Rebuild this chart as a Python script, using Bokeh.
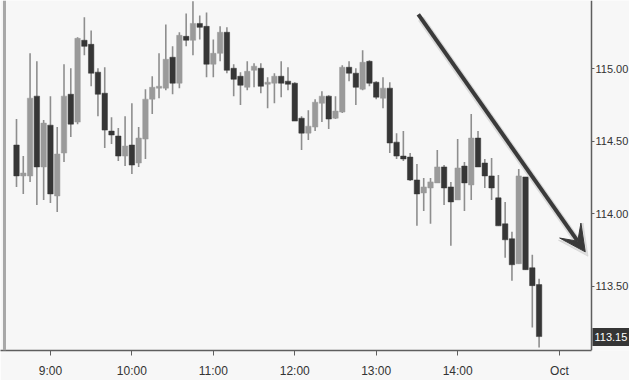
from bokeh.plotting import figure
from bokeh.models import Range1d, FixedTicker, NumeralTickFormatter, Label, Arrow, VeeHead, Span, ColumnDataSource
from bokeh.embed import file_html
from bokeh.resources import INLINE

# ---- data (5-minute candles, index 0 = 8:35) ----
opens = [114.473, 114.260, 114.260, 114.810, 114.322, 114.610, 114.122, 114.418, 114.823, 114.631,
         115.195, 115.167, 114.975, 114.830, 114.569, 114.535, 114.397, 114.473, 114.349, 114.514,
         114.789, 114.865, 114.865, 115.078, 114.899, 115.222, 115.195, 115.311, 115.291, 115.030,
         115.105, 115.250, 115.002, 114.947, 114.871, 114.988, 115.002, 114.892, 114.899, 114.947,
         114.913, 114.899, 114.658, 114.555, 114.597, 114.761, 114.810, 114.658, 114.700, 115.009,
         114.968, 114.858, 115.050, 114.906, 114.796, 114.865, 114.493, 114.397, 114.390, 114.232,
         114.143, 114.177, 114.212, 114.322, 114.184, 114.095, 114.328, 114.198, 114.521, 114.349,
         114.260, 114.109, 113.930, 113.827, 113.655, 114.253, 113.627, 113.511]
highs = [114.652, 114.397, 115.105, 115.050, 114.645, 114.810, 114.597, 115.030, 115.002, 115.215,
         115.353, 115.263, 115.002, 115.009, 114.665, 114.590, 114.672, 114.761, 114.597, 114.858,
         114.947, 115.105, 115.304, 115.153, 115.250, 115.380, 115.463, 115.366, 115.387, 115.201,
         115.291, 115.284, 115.030, 114.975, 115.050, 115.036, 115.036, 114.940, 114.968, 115.050,
         115.009, 114.906, 114.672, 114.713, 114.789, 114.844, 114.816, 114.810, 115.023, 115.050,
         115.002, 115.126, 115.057, 114.913, 114.940, 114.906, 114.555, 114.569, 114.418, 114.342,
         114.246, 114.246, 114.438, 114.335, 114.219, 114.514, 114.356, 114.686, 114.569, 114.377,
         114.383, 114.267, 114.081, 113.875, 114.308, 114.253, 113.717, 113.552]
lows = [114.184, 114.136, 114.219, 114.060, 114.095, 114.074, 114.012, 114.356, 114.528, 114.617,
        115.091, 114.878, 114.672, 114.452, 114.480, 114.363, 114.328, 114.274, 114.322, 114.377,
        114.686, 114.796, 114.851, 114.823, 114.865, 115.153, 115.091, 115.201, 114.940, 114.940,
        115.050, 114.968, 114.810, 114.748, 114.851, 114.871, 114.830, 114.727, 114.761, 114.803,
        114.851, 114.638, 114.438, 114.507, 114.569, 114.631, 114.583, 114.652, 114.693, 114.913,
        114.748, 114.851, 114.878, 114.789, 114.727, 114.418, 114.377, 114.363, 114.225, 113.916,
        114.019, 113.930, 114.212, 114.060, 113.779, 114.095, 114.019, 114.095, 114.322, 114.177,
        114.095, 113.916, 113.696, 113.538, 113.655, 113.614, 113.215, 113.078]
closes = [114.260, 114.280, 114.796, 114.322, 114.624, 114.136, 114.411, 114.810, 114.617, 115.208,
          115.153, 114.968, 114.823, 114.576, 114.542, 114.397, 114.466, 114.335, 114.521, 114.789,
          114.871, 114.878, 115.064, 114.899, 115.229, 115.195, 115.311, 115.284, 115.030, 115.105,
          115.250, 114.988, 114.926, 114.885, 114.981, 115.016, 114.878, 114.906, 114.947, 114.899,
          114.892, 114.638, 114.555, 114.603, 114.768, 114.810, 114.652, 114.707, 115.009, 114.968,
          114.871, 115.043, 114.899, 114.803, 114.865, 114.487, 114.397, 114.377, 114.232, 114.136,
          114.184, 114.219, 114.322, 114.177, 114.081, 114.315, 114.212, 114.521, 114.322, 114.260,
          114.177, 113.916, 113.820, 113.648, 114.260, 113.614, 113.504, 113.153]

time_tick_pos = [5, 17, 29, 41, 53, 65, 80]
time_tick_labels = ["9:00", "10:00", "11:00", "12:00", "13:00", "14:00", "Oct"]
price_ticks = [113.5, 114.0, 114.5, 115.0]
last_price = 113.15
last_price_text = "113.15"
# trend arrow (candle index, price)
arrow_start = (59.2, 115.373)
arrow_end = (83.8, 113.737)

# ---- build ----
idx = list(range(len(opens)))
up_col, down_col, wick_col = "#9a9a9a", "#363636", "#8e8e8e"
src = ColumnDataSource(dict(
    x=idx, high=highs, low=lows,
    top=[max(o, c) for o, c in zip(opens, closes)],
    bottom=[min(o, c) for o, c in zip(opens, closes)],
    color=[up_col if c >= o else down_col for o, c in zip(opens, closes)],
))

BG = "#f7f7f7"
FONT = "Liberation Sans"
AXIS_COL = "#5e5e5e"

X0, X1 = -2.357, 90.32      # full-width frame
AX = 84.72                  # where the price scale sits
p = figure(width=629, height=380, output_backend="svg", toolbar_location=None,
           x_range=Range1d(X0, X1), y_range=Range1d(113.057, 115.469),
           y_axis_location="right",
           min_border_left=0, min_border_top=0, min_border_right=0, min_border_bottom=29)
p.background_fill_color = BG
p.border_fill_color = BG
p.outline_line_color = None
p.xgrid.visible = False
p.ygrid.visible = False

p.segment(x0="x", y0="high", x1="x", y1="low", source=src, line_color=wick_col, line_width=1.6)
p.vbar(x="x", top="top", bottom="bottom", width=0.8, source=src,
       fill_color="color", line_color="color", line_width=0.5)

# axes
xa = p.xaxis[0]
xa.ticker = FixedTicker(ticks=time_tick_pos)
xa.major_label_overrides = {t: l for t, l in zip(time_tick_pos, time_tick_labels)}
xa.bounds = (X0, AX)
xa.minor_tick_line_color = None
xa.major_tick_in = 0
xa.major_tick_out = 5
xa.major_label_standoff = 8
xa.axis_line_color = AXIS_COL
xa.axis_line_width = 1.5
xa.major_tick_line_color = AXIS_COL
xa.major_label_text_font = FONT
xa.major_label_text_font_size = "12px"
xa.major_label_text_color = "#333333"

ya = p.yaxis[0]
ya.fixed_location = AX
ya.ticker = FixedTicker(ticks=price_ticks)
ya.formatter = NumeralTickFormatter(format="0.00")
ya.minor_tick_line_color = None
ya.major_tick_in = 0
ya.major_tick_out = 3
ya.major_label_standoff = 1
ya.axis_line_color = AXIS_COL
ya.axis_line_width = 1.5
ya.major_tick_line_color = AXIS_COL
ya.major_label_text_font = FONT
ya.major_label_text_font_size = "11px"
ya.major_label_text_color = "#333333"

# left border line
p.add_layout(Span(location=-1.77, dimension="height", line_color="#a8a8a8", line_width=3))

# trend arrow with soft shadow
p.add_layout(Arrow(end=VeeHead(size=30, fill_color="#cfcfcf", line_color="#cfcfcf", fill_alpha=0.6, line_alpha=0.6),
                   x_start=arrow_start[0] + 0.4, y_start=arrow_start[1] - 0.03,
                   x_end=arrow_end[0] + 0.4, y_end=arrow_end[1] - 0.03,
                   line_color="#c8c8c8", line_width=7, line_alpha=0.6))
p.add_layout(Arrow(end=VeeHead(size=26, fill_color="#3a3a3a", line_color="#3a3a3a"),
                   x_start=arrow_start[0], y_start=arrow_start[1],
                   x_end=arrow_end[0], y_end=arrow_end[1],
                   line_color="#3a3a3a", line_width=4))

# last price tag on the price scale
p.add_layout(Label(x=AX, y=last_price, text=last_price_text, text_align="left", text_baseline="middle",
                   x_offset=1, text_color="white", text_font=FONT, text_font_size="11px",
                   background_fill_color="#353535", padding=(2, 5)))

open("out.html", "w").write(file_html(p, INLINE))
